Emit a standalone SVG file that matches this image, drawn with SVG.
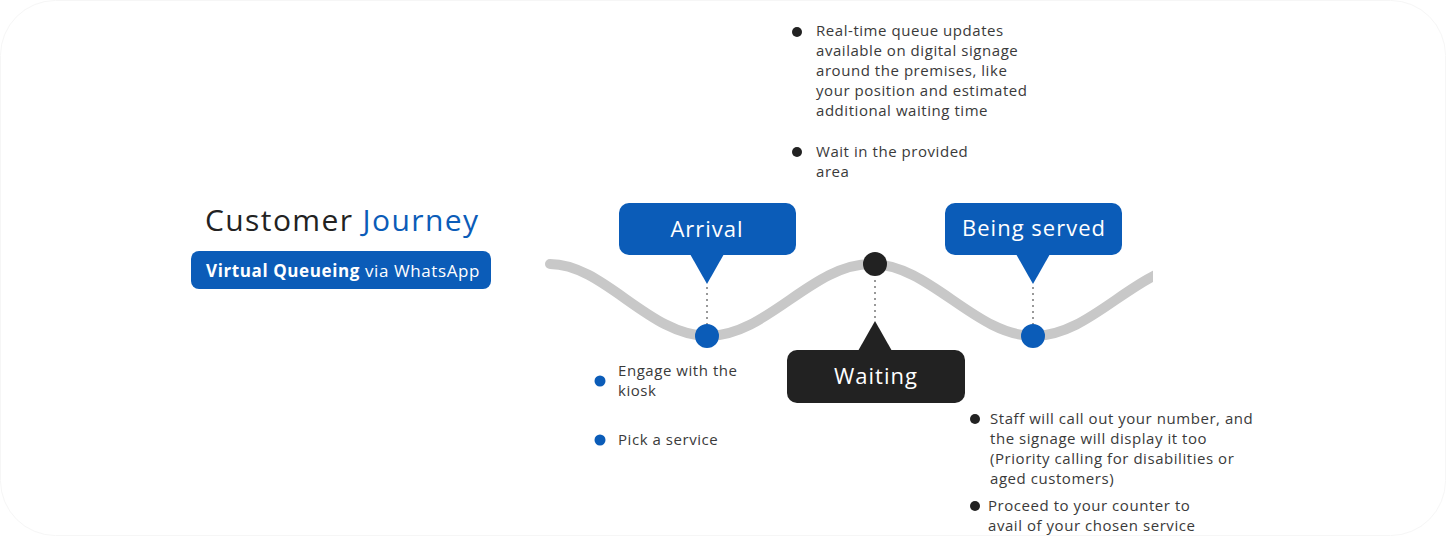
<svg xmlns="http://www.w3.org/2000/svg" width="1446" height="536" viewBox="0 0 1446 536">
<defs>
<style>
.t{font-family:"Open Sans","Liberation Sans",sans-serif;font-size:15px;letter-spacing:0.55px;fill:#3a3a3a}
.lbl{font-family:"Open Sans","Liberation Sans",sans-serif;font-size:22px;letter-spacing:1px;fill:#fff;text-anchor:middle}
.blue{fill:#0b5cb8}
.dark{fill:#222}
.dots{stroke:#999;stroke-width:2;stroke-dasharray:2 4;fill:none}
</style>
<clipPath id="wc"><rect x="540" y="240" width="613" height="120"/></clipPath>
</defs>
<rect x="0.5" y="0.5" width="1445" height="535" rx="55" fill="#fff" stroke="#f6f6f6"/>
<g id="title">
<text x="205" y="231" font-family="'Open Sans','Liberation Sans',sans-serif" font-size="30" letter-spacing="1.4" fill="#222">Customer <tspan fill="#0b5cb8">Journey</tspan></text>
</g>
<g id="subtitle">
<rect x="191" y="251" width="300" height="38" rx="8" class="blue"/>
<text x="206" y="277" font-family="'Open Sans','Liberation Sans',sans-serif" font-size="17" letter-spacing="0.6" fill="#fff"><tspan font-weight="bold">Virtual Queueing</tspan> via WhatsApp</text>
</g>
<g id="connectors">
<path d="M550,264 C604,264 649,336 708,336 S812,264 871,264 S975,336 1034,336 S1138,264 1197,264" fill="none" stroke="#c8c8c8" stroke-width="10" stroke-linecap="round" clip-path="url(#wc)"/>
<line x1="707" y1="287" x2="707" y2="324" class="dots"/>
<line x1="875" y1="280" x2="875" y2="318" class="dots"/>
<line x1="1033" y1="287" x2="1033" y2="324" class="dots"/>
</g>
<g id="arrival">
<rect x="619" y="203" width="177" height="52" rx="10" class="blue"/>
<polygon points="690,254 724,254 707,284" class="blue"/>
<text x="707" y="237" class="lbl">Arrival</text>
<circle cx="707" cy="336" r="12" class="blue"/>
</g>
<g id="waiting">
<circle cx="875" cy="264" r="12" class="dark"/>
<polygon points="858,351 892,351 875,321" class="dark"/>
<rect x="787" y="350" width="178" height="53" rx="10" class="dark"/>
<text x="876" y="384" class="lbl">Waiting</text>
</g>
<g id="being-served">
<rect x="945" y="203" width="177" height="52" rx="10" class="blue"/>
<polygon points="1016,254 1050,254 1033,284" class="blue"/>
<text x="1034" y="236" class="lbl" letter-spacing="1.3">Being served</text>
<circle cx="1033" cy="336" r="12" class="blue"/>
</g>
<g id="waiting-notes">
<circle cx="797" cy="32" r="5" class="dark"/>
<text class="t"><tspan x="816" y="36">Real-time queue updates</tspan><tspan x="816" y="56">available on digital signage</tspan><tspan x="816" y="76">around the premises, like</tspan><tspan x="816" y="96">your position and estimated</tspan><tspan x="816" y="116">additional waiting time</tspan></text>
<circle cx="797" cy="152" r="5" class="dark"/>
<text class="t"><tspan x="816" y="157">Wait in the provided</tspan><tspan x="816" y="177">area</tspan></text>
</g>
<g id="arrival-notes">
<circle cx="600" cy="381" r="5.5" class="blue"/>
<text class="t"><tspan x="618" y="376">Engage with the</tspan><tspan x="618" y="396">kiosk</tspan></text>
<circle cx="600" cy="440" r="5.5" class="blue"/>
<text x="618" y="445" class="t">Pick a service</text>
</g>
<g id="served-notes">
<circle cx="975" cy="419" r="5" class="dark"/>
<text class="t"><tspan x="990" y="424">Staff will call out your number, and</tspan><tspan x="990" y="444">the signage will display it too</tspan><tspan x="990" y="464">(Priority calling for disabilities or</tspan><tspan x="990" y="484">aged customers)</tspan></text>
<circle cx="975" cy="506" r="5" class="dark"/>
<text class="t" font-size="14" letter-spacing="0.75"><tspan x="988" y="511">Proceed to your counter to</tspan><tspan x="988" y="530.5">avail of your chosen service</tspan></text>
</g>
</svg>
